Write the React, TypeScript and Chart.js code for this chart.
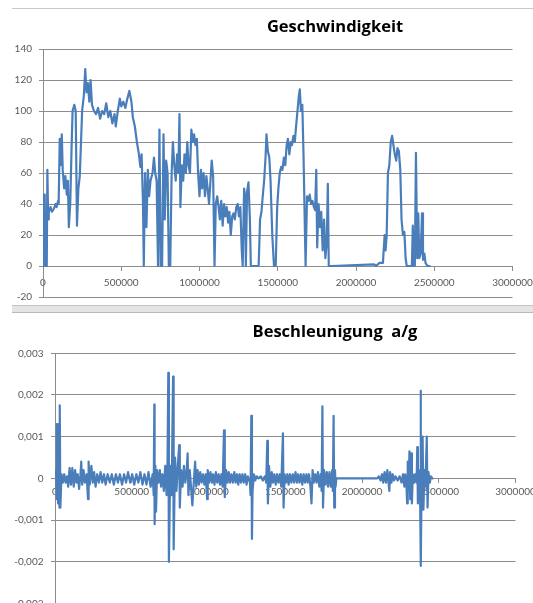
import React, { useEffect, useRef } from 'react';
import { Chart, registerables } from 'chart.js';

Chart.register(...registerables);

// ---------- data ----------
const speedTitle = 'Geschwindigkeit';
const accelTitle = 'Beschleunigung  a/g';

const xTickLabels = ['0', '500000', '1000000', '1500000', '2000000', '2500000', '3000000'];
const speedTickLabels = ['-20', '0', '20', '40', '60', '80', '100', '120', '140'];
const accelTickLabels = ['-0,003', '-0,002', '-0,001', '0', '0,001', '0,002', '0,003'];

// [distance, speed]
const speedPoints: [number, number][] = [
  [0, 0], [4000, 46], [11000, 46], [15000, 0], [24000, 0], [28000, 62], [33000, 30], [37000, 35], [48000, 38],
  [57000, 35], [70000, 37], [80000, 40], [87000, 38], [96000, 42], [100000, 40], [107000, 82], [113000, 65],
  [120000, 85], [126000, 62], [135000, 50], [143000, 58], [152000, 46], [159000, 55], [165000, 25], [174000, 40],
  [183000, 78], [189000, 100], [200000, 104], [209000, 100], [217000, 26], [226000, 50], [235000, 58], [243000, 80],
  [250000, 100], [261000, 110], [270000, 127], [278000, 112], [287000, 118], [296000, 106], [304000, 120],
  [313000, 104], [326000, 100], [339000, 98], [352000, 102], [365000, 95], [378000, 100], [391000, 98],
  [404000, 105], [417000, 96], [430000, 100], [443000, 92], [457000, 98], [465000, 90], [478000, 100],
  [491000, 108], [500000, 103], [513000, 106], [526000, 102], [539000, 108], [552000, 113], [565000, 106],
  [574000, 96], [587000, 90], [600000, 80], [613000, 72], [622000, 64], [630000, 72], [639000, 40], [644000, 0],
  [652000, 60], [661000, 25], [670000, 62], [678000, 45], [687000, 55], [700000, 60], [709000, 70], [717000, 60],
  [726000, 55], [735000, 0], [744000, 88], [752000, 0], [761000, 0], [770000, 85], [778000, 30], [787000, 68],
  [796000, 60], [804000, 0], [813000, 0], [822000, 60], [830000, 80], [839000, 65], [848000, 55], [857000, 72],
  [865000, 60], [872000, 98], [878000, 38], [887000, 65], [896000, 55], [904000, 72], [913000, 60], [922000, 80],
  [930000, 65], [939000, 60], [948000, 88], [957000, 80], [965000, 85], [974000, 78], [983000, 82], [991000, 60],
  [1000000, 45], [1009000, 62], [1017000, 50], [1026000, 60], [1035000, 45], [1044000, 58], [1052000, 50],
  [1061000, 40], [1070000, 55], [1078000, 68], [1087000, 58], [1096000, 0], [1104000, 40], [1113000, 45],
  [1122000, 38], [1130000, 30], [1139000, 42], [1148000, 26], [1157000, 40], [1165000, 32], [1174000, 38],
  [1183000, 28], [1191000, 35], [1200000, 20], [1209000, 32], [1217000, 34], [1226000, 30], [1235000, 38],
  [1244000, 40], [1252000, 32], [1261000, 38], [1270000, 10], [1276000, 0], [1285000, 50], [1291000, 45],
  [1296000, 0], [1304000, 48], [1313000, 54], [1322000, 30], [1328000, 0], [1378000, 0], [1387000, 30],
  [1396000, 35], [1404000, 45], [1413000, 55], [1422000, 70], [1428000, 85], [1437000, 74], [1446000, 70],
  [1454000, 55], [1465000, 20], [1476000, 0], [1487000, 0], [1496000, 37], [1504000, 50], [1513000, 60],
  [1522000, 64], [1530000, 62], [1539000, 70], [1548000, 65], [1557000, 78], [1565000, 82], [1574000, 72],
  [1583000, 80], [1591000, 78], [1600000, 84], [1609000, 80], [1617000, 90], [1626000, 100], [1635000, 110],
  [1641000, 114], [1648000, 100], [1657000, 104], [1665000, 70], [1674000, 20], [1678000, 0], [1687000, 45],
  [1696000, 42], [1704000, 46], [1713000, 40], [1722000, 42], [1731000, 38], [1739000, 36], [1746000, 62],
  [1752000, 12], [1761000, 40], [1770000, 25], [1778000, 35], [1787000, 10], [1796000, 30], [1804000, 5],
  [1813000, 15], [1820000, 53], [1826000, 0], [1846000, 0], [2117000, 1], [2128000, 0], [2150000, 2],
  [2172000, 2], [2183000, 20], [2189000, 10], [2196000, 20], [2204000, 60], [2213000, 65], [2222000, 80],
  [2231000, 84], [2239000, 78], [2248000, 72], [2257000, 68], [2265000, 76], [2274000, 74], [2283000, 62],
  [2291000, 30], [2300000, 20], [2309000, 22], [2317000, 5], [2324000, 0], [2357000, 0], [2363000, 26],
  [2370000, 0], [2376000, 0], [2383000, 73], [2391000, 5], [2398000, 34], [2404000, 5], [2413000, 8],
  [2422000, 34], [2428000, 4], [2437000, 8], [2444000, 2], [2457000, 0], [2476000, 0],
];

// [distance, acceleration a/g]
const accelPoints: [number, number][] = [
  [0, 0], [7000, 0.0002], [11000, 0.0013], [13000, -0.0005], [18000, 0.0013], [20000, -0.0006], [24000, 0.0008],
  [29000, -0.0007], [31000, 0.00175], [35000, -0.0007], [42000, 0.0001], [51000, -0.0001], [60000, 0.0001],
  [69000, -0.0001], [78000, 0.00005], [86000, -0.0002], [95000, 0.00025], [104000, -0.00015], [113000, 0.00025],
  [122000, -0.0002], [131000, 0.0002], [140000, -0.0001], [148000, 0.0001], [157000, -0.00025], [166000, 0.0001],
  [171000, 0.0004], [177000, -0.00015], [186000, 0.0002], [195000, -0.0001], [206000, 0.0001], [215000, -0.0005],
  [219000, 0.0004], [226000, -0.00015], [237000, 0.0003], [246000, -0.0001], [255000, 0.00015], [264000, -0.0002],
  [275000, 0.0001], [286000, -0.0001], [297000, 0.00015], [308000, -0.0001], [319000, 0.0001], [330000, -0.00015],
  [343000, 0.0001], [357000, -0.0001], [370000, 0.0001], [383000, -0.00015], [397000, 0.0001], [410000, -0.0001],
  [423000, 0.0001], [437000, -0.00015], [450000, 0.0001], [463000, -0.0001], [476000, 0.00015], [490000, -0.0001],
  [503000, 0.0001], [516000, -0.00015], [530000, 0.0001], [543000, -0.0001], [556000, 0.00015], [570000, -0.00015],
  [583000, 0.0001], [596000, -0.00015], [609000, 0.00015], [623000, -0.0002], [636000, 0.0001], [643000, -0.0004],
  [647000, 0.00177], [649000, -0.0011], [654000, 0.0003], [658000, -0.0008], [665000, 0.0002], [674000, -0.0001],
  [683000, 0.0002], [691000, -0.0002], [700000, 0.0001], [709000, -0.0003], [718000, 0.0003], [727000, -0.0004],
  [733000, 0.0004], [738000, 0.00253], [742000, -0.002], [751000, 0.0003], [760000, -0.0004], [769000, 0.00244],
  [773000, -0.0017], [782000, 0.0005], [791000, -0.0003], [800000, 0.0003], [809000, 0.0008], [813000, -0.0007],
  [822000, 0.0002], [831000, -0.0002], [840000, 0.0003], [849000, -0.0001], [858000, 0.0002], [864000, 0.0006],
  [869000, -0.0004], [878000, 0.0002], [886000, -0.0002], [895000, -0.00065], [904000, -0.0001], [913000, 0.0004],
  [920000, -0.0002], [929000, 0.0002], [937000, -0.00015], [946000, 0.00015], [955000, -0.0001], [964000, 0.0001],
  [973000, -0.00015], [982000, 0.0001], [991000, -0.0005], [995000, 0.0002], [1004000, -0.0001], [1013000, 0.00015],
  [1022000, -0.0001], [1030000, 0.0001], [1039000, -0.00015], [1048000, 0.00015], [1057000, -0.0001],
  [1066000, 0.0001], [1075000, -0.00015], [1084000, 0.0001], [1092000, -0.0002], [1101000, 0.00115],
  [1106000, -0.00045], [1115000, 0.0002], [1124000, -0.0001], [1132000, 0.00015], [1141000, -0.0001],
  [1150000, 0.0001], [1159000, -0.0001], [1168000, 0.00015], [1177000, -0.0001], [1186000, 0.0001],
  [1194000, -0.00015], [1203000, 0.0001], [1212000, -0.0001], [1221000, 0.0001], [1230000, -0.0001],
  [1239000, 0.0001], [1248000, -0.00015], [1256000, 0.00005], [1270000, -0.0001], [1274000, -0.0004],
  [1279000, 0.0015], [1283000, -0.00145], [1287000, -0.0003], [1296000, 0.0001], [1305000, -0.00005],
  [1314000, 0.00005], [1327000, 0], [1341000, 0.00005], [1354000, -0.00005], [1367000, 0.00005], [1376000, -0.0001],
  [1383000, 0.0009], [1387000, -0.0006], [1394000, 0.0003], [1403000, -0.0002], [1412000, 0.00015],
  [1420000, -0.0001], [1429000, 0.0001], [1438000, -0.00015], [1447000, 0.0001], [1456000, -0.0001],
  [1465000, 0.0001], [1474000, -0.0002], [1485000, 0.00108], [1489000, -0.0007], [1496000, 0.0001],
  [1505000, -0.0001], [1514000, 0.0001], [1522000, -0.00015], [1531000, 0.0001], [1540000, -0.0001],
  [1549000, 0.0001], [1558000, -0.0001], [1567000, 0.00015], [1576000, -0.0001], [1584000, 0.0001],
  [1593000, -0.0001], [1602000, 0.0001], [1611000, -0.00015], [1620000, 0.0001], [1629000, -0.0001],
  [1638000, 0.0001], [1646000, -0.0001], [1655000, 0.0001], [1664000, -0.0002], [1671000, -0.0006],
  [1678000, 0.0002], [1686000, -0.0001], [1695000, 0.0001], [1704000, -0.0001], [1713000, 0.00015],
  [1722000, -0.0002], [1731000, 0.0001], [1737000, -0.0003], [1742000, 0.00173], [1746000, -0.0007],
  [1753000, 0.0002], [1762000, -0.00015], [1771000, 0.00015], [1779000, -0.0002], [1788000, 0.00015],
  [1797000, -0.0002], [1806000, 0.0002], [1810000, -0.0003], [1815000, 0.0015], [1819000, -0.0007],
  [1824000, 0.0002], [1828000, -0.0002], [1833000, 0], [1855000, 0], [2099000, 0], [2110000, 0.00005],
  [2121000, -0.00005], [2130000, 0.0001], [2138000, -0.0001], [2147000, 0.00015], [2156000, -0.0001],
  [2165000, 0.0002], [2174000, -0.00015], [2178000, -0.0003], [2183000, 0.00015], [2192000, -0.0001],
  [2200000, 0.0001], [2209000, -0.00005], [2218000, 0.00005], [2232000, -0.00005], [2245000, 0.00005],
  [2258000, -0.0001], [2267000, 0.0001], [2276000, -0.0002], [2282000, 0.0001], [2289000, -0.0001],
  [2294000, -0.0006], [2298000, 0.0004], [2305000, -0.0003], [2309000, 0.00065], [2314000, -0.0005],
  [2320000, 0.0006], [2325000, -0.0006], [2331000, 0.0001], [2340000, -0.0001], [2347000, 0.0001],
  [2356000, -0.0001], [2360000, 0.00075], [2364000, -0.0006], [2371000, 0.0002], [2378000, -0.0002],
  [2382000, 0.0021], [2384000, -0.0021], [2389000, 0.0003], [2395000, 0.001], [2400000, -0.00075],
  [2407000, 0.0002], [2413000, -0.0002], [2422000, 0.001], [2427000, -0.0007], [2433000, 0.00015],
  [2442000, -0.0001], [2449000, 0.00005], [2458000, 0], [2464000, 0],
];

// ---------- styling ----------
const LINE_COLOR = '#4A7EBB';
const GRID_COLOR = '#8c8c8c';
const TICK_COLOR = '#595959';
const TICK_FONT = { family: 'Lato', size: 10 };
const TITLE_FONT = { family: 'Open Sans', size: 16.5, weight: 'bold' as const };

type ChartSpec = {
  title: string;
  points: [number, number][];
  yMin: number;
  yMax: number;
  yStep: number;
  yLabels: string[];
  yWidth: number;
  rightWidth: number;
  titlePadTop: number;
  titlePadBottom: number;
  padBottom: number;
  yLabelPad: number;
  xLabelPad: number;
  width: number;
  height: number;
};

function LineChart({ spec }: { spec: ChartSpec }) {
  const ref = useRef<HTMLCanvasElement | null>(null);
  useEffect(() => {
    if (!ref.current) return;
    const chart = new Chart(ref.current, {
      type: 'line',
      data: {
        datasets: [
          {
            data: spec.points.map(([x, y]) => ({ x, y })),
            borderColor: LINE_COLOR,
            borderWidth: 2.2,
            pointRadius: 0,
            tension: 0,
            fill: false,
            borderJoinStyle: 'round',
            yAxisID: 'y',
          },
        ],
      },
      options: {
        responsive: false,
        animation: false,
        layout: { padding: { top: 0, left: 0, right: 0, bottom: spec.padBottom } },
        plugins: {
          legend: { display: false },
          tooltip: { enabled: false },
          title: {
            display: true,
            text: spec.title,
            color: '#000000',
            font: TITLE_FONT,
            padding: { top: spec.titlePadTop, bottom: spec.titlePadBottom },
          },
        },
        scales: {
          x: {
            type: 'linear',
            position: { y: 0 } as any,
            min: 0,
            max: 3000000,
            afterFit: (s: any) => {
              s.height = 0;
            },
            ticks: {
              stepSize: 500000,
              autoSkip: false,
              maxRotation: 0,
              padding: spec.xLabelPad,
              color: TICK_COLOR,
              font: TICK_FONT,
              callback: (_v: any, i: number) => xTickLabels[i] ?? '',
            },
            grid: { drawOnChartArea: false, tickLength: 4, color: GRID_COLOR },
            border: { display: true, color: GRID_COLOR },
          },
          y: {
            type: 'linear',
            position: 'left',
            min: spec.yMin,
            max: spec.yMax,
            afterFit: (s: any) => {
              s.width = spec.yWidth;
            },
            ticks: {
              stepSize: spec.yStep,
              autoSkip: false,
              padding: spec.yLabelPad,
              color: TICK_COLOR,
              font: TICK_FONT,
              callback: (_v: any, i: number) => spec.yLabels[i] ?? '',
            },
            grid: { color: GRID_COLOR, tickLength: 4 },
            border: { display: true, color: GRID_COLOR },
          },
          pad: {
            type: 'linear',
            position: 'right',
            display: true,
            afterFit: (s: any) => {
              s.width = spec.rightWidth;
            },
            grid: { display: false },
            ticks: { display: false },
            border: { display: false },
          },
        },
      } as any,
    });
    return () => chart.destroy();
  }, [spec]);
  return <canvas ref={ref} width={spec.width} height={spec.height} style={{ display: 'block' }} />;
}

const topSpec: ChartSpec = {
  title: speedTitle,
  points: speedPoints,
  yMin: -20,
  yMax: 140,
  yStep: 20,
  yLabels: speedTickLabels,
  yWidth: 43,
  rightWidth: 670 - 512.5,
  titlePadTop: 17.1,
  titlePadBottom: 12.1,
  padBottom: 0,
  yLabelPad: 7,
  xLabelPad: 7,
  width: 670,
  height: 310,
};

const bottomSpec: ChartSpec = {
  title: accelTitle,
  points: accelPoints,
  yMin: -0.003,
  yMax: 0.003,
  yStep: 0.001,
  yLabels: accelTickLabels,
  yWidth: 55,
  rightWidth: 670 - 515.5,
  titlePadTop: 9.1,
  titlePadBottom: 11.4,
  padBottom: 0,
  yLabelPad: 7.5,
  xLabelPad: 3,
  width: 670,
  height: 304,
};

export default function App() {
  return (
    <div
      style={{
        position: 'fixed',
        left: 0,
        top: 0,
        width: 533,
        height: 603,
        overflow: 'hidden',
        background: '#ffffff',
      }}
    >
      <div style={{ position: 'absolute', left: 0, top: 0 }}>
        <LineChart spec={topSpec} />
      </div>
      <div style={{ position: 'absolute', left: 0, top: 313 }}>
        <LineChart spec={bottomSpec} />
      </div>
      <div style={{ position: 'absolute', left: 12, top: 8, width: 521, height: 1, background: '#c8c8c8' }} />
      <div
        style={{
          position: 'absolute',
          left: 12,
          top: 305,
          width: 521,
          height: 6,
          background: '#e4e4e4',
          borderTop: '1px solid #c4c4c4',
          borderBottom: '1px solid #b8b8b8',
        }}
      />
    </div>
  );
}
